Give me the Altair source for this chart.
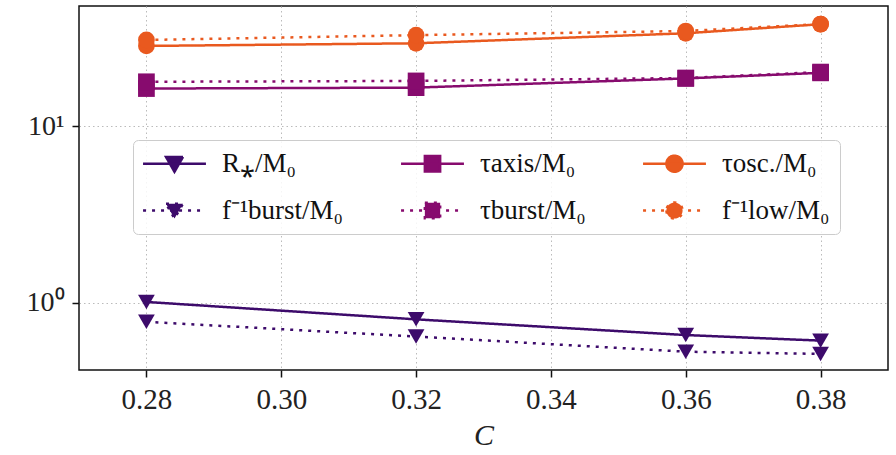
import altair as alt
import pandas as pd

# ---- data ----
C_values = [0.28, 0.32, 0.36, 0.38]

R_star = [1.01, 0.805, 0.656, 0.61]
f_burst_inv = [0.78, 0.643, 0.528, 0.513]
tau_axis = [16.3, 16.5, 18.6, 20.0]
tau_burst = [17.8, 18.0, 18.7, 20.2]
tau_osc = [28.4, 29.4, 33.5, 37.7]
f_low_inv = [30.7, 32.7, 34.5, 37.8]

series_names = ["R⁎/M₀", "τaxis/M₀", "τosc./M₀", "f⁻¹burst/M₀", "τburst/M₀", "f⁻¹low/M₀"]
series_values = [R_star, tau_axis, tau_osc, f_burst_inv, tau_burst, f_low_inv]
series_colors = ["#3d0b6b", "#870b6e", "#e9591f", "#3d0b6b", "#870b6e", "#e9591f"]
series_dash = [[1, 0], [1, 0], [1, 0], [3, 6], [3, 6], [3, 6]]
series_marker = ["triangle-down", "square", "circle", "triangle-down", "square", "circle"]

y_major = [1, 10]
x_ticks = [0.28, 0.30, 0.32, 0.34, 0.36, 0.38]

rows = []
for name, vals, mk in zip(series_names, series_values, series_marker):
    for c, v in zip(C_values, vals):
        rows.append({"C": c, "value": v, "series": name, "marker": mk})
df = pd.DataFrame(rows)

FONT = "Liberation Serif"
TICK = "#111111"

# legend symbol paths: short line with the marker in the middle
legend_paths = {
    "triangle-down": "M-3.7,0H3.7M-1,-0.8L1,-0.8L0,0.95Z",
    "square": "M-3.7,0H3.7M-0.9,-0.9H0.9V0.9H-0.9Z",
    "circle": "M-3.7,0H3.7M-0.95,0A0.95,0.95,0,1,0,0.95,0A0.95,0.95,0,1,0,-0.95,0Z",
}
legend_shapes = [legend_paths[m] for m in series_marker]

legend = alt.Legend(
    title=None,
    orient="none",
    legendX=54,
    legendY=134,
    columns=3,
    direction="horizontal",
    labelFont=FONT,
    labelFontSize=27,
    labelColor="#111",
    symbolSize=289,
    symbolStrokeWidth=2.5,
    symbolOpacity=1,
    symbolOffset=18,
    labelOffset=34,
    columnPadding=52,
    rowPadding=19,
    padding=10,
    gridAlign="each",
    strokeColor="#cccccc",
    fillColor="rgba(255,255,255,0.85)",
    cornerRadius=5,
    labelLimit=300,
)

x_scale = alt.Scale(domain=[0.27, 0.39], nice=False, zero=False)
x_enc = alt.X(
    "C:Q",
    scale=x_scale,
    axis=alt.Axis(
        values=x_ticks,
        format=".2f",
        title="C",
        titleFont=FONT,
        titleFontStyle="italic",
        titleFontWeight="normal",
        titleFontSize=30,
        titleColor="#222",
        titlePadding=6,
        labelFont=FONT,
        labelFontSize=29,
        labelColor="#222",
        labelPadding=8,
        ticks=True,
        tickSize=7,
        tickWidth=1.5,
        tickColor=TICK,
        domain=False,
        grid=True,
        gridColor="#bbbbbb",
        gridDash=[1.5, 3],
        gridWidth=1,
    ),
)

y_scale = alt.Scale(type="log", domain=[0.416, 47.8], nice=False)

y_major_axis = alt.Axis(
    values=y_major,
    labelExpr="datum.value == 1 ? '10⁰' : '10¹'",
    title=None,
    orient="left",
    labelFont=FONT,
    labelFontSize=28,
    labelColor="#222",
    labelPadding=8,
    ticks=True,
    tickSize=7,
    tickWidth=1.5,
    tickColor=TICK,
    domain=False,
    grid=True,
    gridColor="#bbbbbb",
    gridDash=[1.5, 3],
    gridWidth=1,
)

color_enc = alt.Color(
    "series:N", scale=alt.Scale(domain=series_names, range=series_colors), legend=legend
)

lines = alt.Chart(df).mark_line(strokeWidth=2.5, strokeCap="butt").encode(
    x=x_enc,
    y=alt.Y("value:Q", scale=y_scale, axis=y_major_axis),
    color=color_enc,
    strokeDash=alt.StrokeDash(
        "series:N",
        scale=alt.Scale(domain=series_names, range=series_dash),
        legend=legend,
    ),
)

point_layers = []
for mk in ["triangle-down", "square", "circle"]:
    point_layers.append(
        alt.Chart(df)
        .transform_filter(alt.datum.marker == mk)
        .mark_point(filled=True, size=280, opacity=1, shape=mk)
        .encode(
            x=x_enc,
            y=alt.Y("value:Q", scale=y_scale, axis=None),
            color=color_enc,
        )
    )

# layer without drawn marks that supplies the legend symbol shapes
legend_layer = (
    alt.Chart(df)
    .transform_filter(alt.datum.value < 0)
    .mark_point(filled=True, size=289, opacity=1)
    .encode(
        x=x_enc,
        y=alt.Y("value:Q", scale=y_scale, axis=None),
        color=color_enc,
        shape=alt.Shape(
            "series:N",
            scale=alt.Scale(domain=series_names, range=legend_shapes),
            legend=legend,
        ),
    )
)

chart = (
    alt.layer(lines, *point_layers, legend_layer)
    .resolve_axis(y="independent")
    .properties(
        width=809,
        height=364,
        autosize=alt.AutoSizeParams(type="none"),
        padding={"left": 79, "top": 6, "right": 8, "bottom": 85},
        background="white",
    )
    .configure_view(stroke="#111", strokeWidth=1.5)
)

chart.save("out.html", embed_options={"renderer": "svg", "actions": False})
